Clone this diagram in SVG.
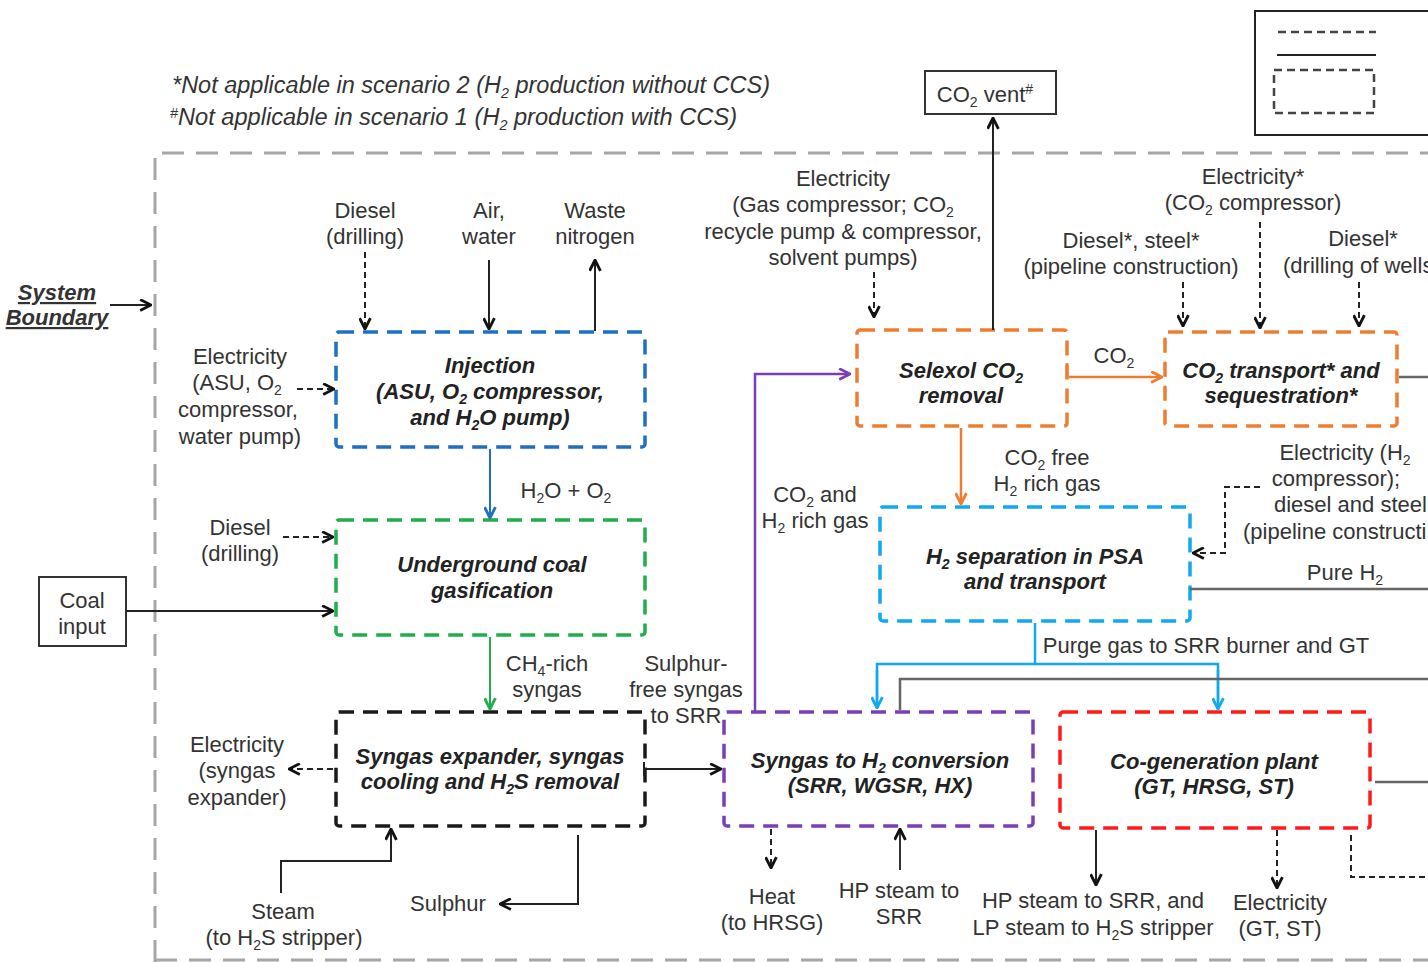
<svg xmlns="http://www.w3.org/2000/svg" width="1428" height="962" viewBox="0 0 1428 962">
<style>
text{font-family:"Liberation Sans",Arial,sans-serif;font-size:22px;fill:#333;text-anchor:middle}
.t{font-weight:bold;font-style:italic;fill:#222;font-size:22px}
.note{font-style:italic;text-anchor:start;font-size:23px}
.box{fill:none;stroke-width:3.5;stroke-dasharray:15,9}
.sol{fill:none;stroke:#222;stroke-width:2}
.dsh{fill:none;stroke:#222;stroke-width:2;stroke-dasharray:6,4}
.gry{fill:none;stroke:#666;stroke-width:2.5}
.s{font-size:14px}
</style>
<defs>
<marker id="ak" viewBox="0 0 12 12" refX="11" refY="6" markerWidth="13" markerHeight="13" markerUnits="userSpaceOnUse" orient="auto"><path d="M1,1 L11,6 L1,11" fill="none" stroke="#111" stroke-width="2.6"/></marker>
<marker id="ab" viewBox="0 0 12 12" refX="11" refY="6" markerWidth="13" markerHeight="13" markerUnits="userSpaceOnUse" orient="auto"><path d="M1,1 L11,6 L1,11" fill="none" stroke="#1f6fc5" stroke-width="2.6"/></marker>
<marker id="ag" viewBox="0 0 12 12" refX="11" refY="6" markerWidth="13" markerHeight="13" markerUnits="userSpaceOnUse" orient="auto"><path d="M1,1 L11,6 L1,11" fill="none" stroke="#21ad4b" stroke-width="2.6"/></marker>
<marker id="ao" viewBox="0 0 12 12" refX="11" refY="6" markerWidth="13" markerHeight="13" markerUnits="userSpaceOnUse" orient="auto"><path d="M1,1 L11,6 L1,11" fill="none" stroke="#ed7d31" stroke-width="2.6"/></marker>
<marker id="ap" viewBox="0 0 12 12" refX="11" refY="6" markerWidth="13" markerHeight="13" markerUnits="userSpaceOnUse" orient="auto"><path d="M1,1 L11,6 L1,11" fill="none" stroke="#7b3fb4" stroke-width="2.6"/></marker>
<marker id="al" viewBox="0 0 12 12" refX="11" refY="6" markerWidth="13" markerHeight="13" markerUnits="userSpaceOnUse" orient="auto"><path d="M1,1 L11,6 L1,11" fill="none" stroke="#12a8ee" stroke-width="2.6"/></marker>
</defs>
<rect width="1428" height="962" fill="#fff"/>

<!-- system boundary -->
<g id="boundary">
<path d="M155,962 L155,153 L1440,153" fill="none" stroke="#a6a6a6" stroke-width="3" stroke-dasharray="22,12"/>
<path d="M155,960 L1440,960" fill="none" stroke="#a6a6a6" stroke-width="3" stroke-dasharray="22,12"/>
<text x="57" y="300" style="font-weight:bold;font-style:italic;text-decoration:underline" font-size="20">System</text>
<text x="57" y="325" style="font-weight:bold;font-style:italic;text-decoration:underline" font-size="20">Boundary</text>
</g>

<!-- legend -->
<g id="legend">
<rect x="1255" y="11" width="200" height="124" fill="none" stroke="#222" stroke-width="2"/>
<line x1="1278" y1="32" x2="1376" y2="32" stroke="#444" stroke-width="2.5" stroke-dasharray="8,5"/>
<line x1="1277" y1="55" x2="1376" y2="55" stroke="#222" stroke-width="2"/>
<rect x="1274" y="70" width="100" height="43" fill="none" stroke="#444" stroke-width="2.5" stroke-dasharray="8,5"/>
</g>

<!-- notes -->
<g id="notes">
<text class="note" x="172" y="93" textLength="598" lengthAdjust="spacingAndGlyphs">*Not applicable in scenario 2 (H<tspan class="s" dy="5">2</tspan><tspan dy="-5"> production without CCS)</tspan></text>
<text class="note" x="170" y="125" textLength="567" lengthAdjust="spacingAndGlyphs"><tspan class="s" dy="-7">#</tspan><tspan dy="7">Not applicable in scenario 1 (H</tspan><tspan class="s" dy="5">2</tspan><tspan dy="-5"> production with CCS)</tspan></text>
</g>

<!-- nodes -->
<g id="co2vent">
<rect x="925" y="71" width="131" height="43" fill="#fff" stroke="#333" stroke-width="2"/>
<text x="985" y="102">CO<tspan class="s" dy="5">2</tspan><tspan dy="-5"> vent</tspan><tspan class="s" dy="-8">#</tspan></text>
</g>

<g id="coal">
<rect x="39" y="577" width="87" height="69" fill="#fff" stroke="#333" stroke-width="2"/>
<text x="82" y="608">Coal</text>
<text x="82" y="634">input</text>
</g>

<g id="injection">
<rect class="box" x="336" y="332" width="309" height="115" rx="3" stroke="#1f6fc5"/>
<text class="t" x="490" y="373">Injection</text>
<text class="t" x="490" y="399">(ASU, O<tspan class="s" dy="5">2</tspan><tspan dy="-5"> compressor,</tspan></text>
<text class="t" x="490" y="425">and H<tspan class="s" dy="5">2</tspan><tspan dy="-5">O pump)</tspan></text>
</g>

<g id="ucg">
<rect class="box" x="336" y="520" width="309" height="115" rx="3" stroke="#21ad4b"/>
<text class="t" x="492" y="572">Underground coal</text>
<text class="t" x="492" y="598">gasification</text>
</g>

<g id="syngasexp">
<rect class="box" x="336" y="712" width="309" height="114" rx="3" stroke="#1a1a1a"/>
<text class="t" x="490" y="764">Syngas expander, syngas</text>
<text class="t" x="490" y="789">cooling and H<tspan class="s" dy="5">2</tspan><tspan dy="-5">S removal</tspan></text>
</g>

<g id="conversion">
<rect class="box" x="724" y="712" width="309" height="114" rx="3" stroke="#7b3fb4"/>
<text class="t" x="880" y="768">Syngas to H<tspan class="s" dy="5">2</tspan><tspan dy="-5"> conversion</tspan></text>
<text class="t" x="880" y="793">(SRR, WGSR, HX)</text>
</g>

<g id="selexol">
<rect class="box" x="857" y="330" width="210" height="96" rx="3" stroke="#ed7d31"/>
<text class="t" x="961" y="378">Selexol CO<tspan class="s" dy="5">2</tspan></text>
<text class="t" x="961" y="403">removal</text>
</g>

<g id="co2transport">
<rect class="box" x="1165" y="332" width="232" height="94" rx="3" stroke="#ed7d31"/>
<text class="t" x="1281" y="378">CO<tspan class="s" dy="5">2</tspan><tspan dy="-5"> transport* and</tspan></text>
<text class="t" x="1281" y="403">sequestration*</text>
</g>

<g id="psa">
<rect class="box" x="880" y="507" width="310" height="114" rx="3" stroke="#12a8ee"/>
<text class="t" x="1035" y="564">H<tspan class="s" dy="5">2</tspan><tspan dy="-5"> separation in PSA</tspan></text>
<text class="t" x="1035" y="589">and transport</text>
</g>

<g id="cogen">
<rect class="box" x="1060" y="712" width="310" height="116" rx="3" stroke="#ff1a1a"/>
<text class="t" x="1214" y="769">Co-generation plant</text>
<text class="t" x="1214" y="794">(GT, HRSG, ST)</text>
</g>

<!-- labels -->
<g id="labels">
<text x="365" y="218">Diesel</text>
<text x="365" y="244">(drilling)</text>
<text x="489" y="218">Air,</text>
<text x="489" y="244">water</text>
<text x="595" y="218">Waste</text>
<text x="595" y="244">nitrogen</text>
<text x="240" y="364">Electricity</text>
<text x="237" y="390">(ASU, O<tspan class="s" dy="5">2</tspan></text>
<text x="238" y="417">compressor,</text>
<text x="240" y="444">water pump)</text>
<text x="566" y="498">H<tspan class="s" dy="5">2</tspan><tspan dy="-5">O + O</tspan><tspan class="s" dy="5">2</tspan></text>
<text x="240" y="535">Diesel</text>
<text x="240" y="561">(drilling)</text>
<text x="547" y="671">CH<tspan class="s" dy="5">4</tspan><tspan dy="-5">-rich</tspan></text>
<text x="547" y="697">syngas</text>
<text x="686" y="671">Sulphur-</text>
<text x="686" y="697">free syngas</text>
<text x="686" y="723">to SRR</text>
<text x="237" y="752">Electricity</text>
<text x="237" y="778">(syngas</text>
<text x="237" y="805">expander)</text>
<text x="283" y="919">Steam</text>
<text x="284" y="945">(to H<tspan class="s" dy="5">2</tspan><tspan dy="-5">S stripper)</tspan></text>
<text x="448" y="911">Sulphur</text>
<text x="772" y="904">Heat</text>
<text x="772" y="930">(to HRSG)</text>
<text x="899" y="898">HP steam to</text>
<text x="899" y="924">SRR</text>
<text x="1093" y="908">HP steam to SRR, and</text>
<text x="1093" y="935">LP steam to H<tspan class="s" dy="5">2</tspan><tspan dy="-5">S stripper</tspan></text>
<text x="1280" y="910">Electricity</text>
<text x="1280" y="936">(GT, ST)</text>
<text x="815" y="502">CO<tspan class="s" dy="5">2</tspan><tspan dy="-5"> and</tspan></text>
<text x="815" y="528">H<tspan class="s" dy="5">2</tspan><tspan dy="-5"> rich gas</tspan></text>
<text x="843" y="186">Electricity</text>
<text x="843" y="212">(Gas compressor; CO<tspan class="s" dy="5">2</tspan></text>
<text x="843" y="239">recycle pump &amp; compressor,</text>
<text x="843" y="265">solvent pumps)</text>
<text x="1114" y="363">CO<tspan class="s" dy="5">2</tspan></text>
<text x="1253" y="184">Electricity*</text>
<text x="1253" y="210">(CO<tspan class="s" dy="5">2</tspan><tspan dy="-5"> compressor)</tspan></text>
<text x="1131" y="248">Diesel*, steel*</text>
<text x="1131" y="274">(pipeline construction)</text>
<text x="1363" y="246">Diesel*</text>
<text x="1283" y="273" style="text-anchor:start">(drilling of wells</text>
<text x="1345" y="460">Electricity (H<tspan class="s" dy="5">2</tspan></text>
<text x="1336" y="486">compressor);</text>
<text x="1274" y="512" style="text-anchor:start">diesel and steel</text>
<text x="1243" y="539" style="text-anchor:start">(pipeline constructi</text>
<text x="1047" y="465">CO<tspan class="s" dy="5">2</tspan><tspan dy="-5"> free</tspan></text>
<text x="1047" y="491">H<tspan class="s" dy="5">2</tspan><tspan dy="-5"> rich gas</tspan></text>
<text x="1345" y="580">Pure H<tspan class="s" dy="5">2</tspan></text>
<text x="1206" y="653">Purge gas to SRR burner and GT</text>
</g>

<!-- connectors -->
<g id="connectors">
<line class="sol" x1="110" y1="305" x2="151" y2="305" marker-end="url(#ak)"/>
<line class="sol" x1="993" y1="330" x2="993" y2="118" marker-end="url(#ak)"/>
<line class="dsh" x1="365" y1="252" x2="365" y2="329" marker-end="url(#ak)"/>
<line class="sol" x1="489" y1="260" x2="489" y2="329" marker-end="url(#ak)"/>
<line class="sol" x1="595" y1="331" x2="595" y2="260" marker-end="url(#ak)"/>
<line class="dsh" x1="297" y1="389" x2="334" y2="389" marker-end="url(#ak)"/>
<line x1="490" y1="449" x2="490" y2="518" fill="none" stroke="#1f6fc5" stroke-width="2" marker-end="url(#ab)"/>
<line class="dsh" x1="283" y1="537" x2="333" y2="537" marker-end="url(#ak)"/>
<line class="sol" x1="126" y1="611" x2="333" y2="611" marker-end="url(#ak)"/>
<line x1="490" y1="637" x2="490" y2="709" fill="none" stroke="#21ad4b" stroke-width="2" marker-end="url(#ag)"/>
<line class="dsh" x1="333" y1="769" x2="289" y2="769" marker-end="url(#ak)"/>
<polyline class="sol" points="281,893 281,861 391,861 391,829" marker-end="url(#ak)"/>
<polyline class="sol" points="578,835 578,904 500,904" marker-end="url(#ak)"/>
<line class="sol" x1="644" y1="769" x2="721" y2="769" marker-end="url(#ak)"/>
<line class="sol" x1="644" y1="762" x2="644" y2="776"/>
<polyline points="755,711 755,374 850,374" fill="none" stroke="#7b3fb4" stroke-width="2.5" marker-end="url(#ap)"/>
<line class="dsh" x1="771" y1="829" x2="771" y2="868" marker-end="url(#ak)"/>
<line x1="900" y1="870" x2="900" y2="829" fill="none" stroke="#333" stroke-width="2" marker-end="url(#ak)"/>
<line class="dsh" x1="874" y1="272" x2="874" y2="317" marker-end="url(#ak)"/>
<line x1="1069" y1="377" x2="1162" y2="377" fill="none" stroke="#ed7d31" stroke-width="2.5" marker-end="url(#ao)"/>
<line x1="1067" y1="363" x2="1067" y2="377" fill="none" stroke="#ed7d31" stroke-width="2.5"/>
<line class="gry" x1="1399" y1="377" x2="1428" y2="377"/>
<line class="dsh" x1="1260" y1="222" x2="1260" y2="328" marker-end="url(#ak)"/>
<line class="dsh" x1="1183" y1="282" x2="1183" y2="326" marker-end="url(#ak)"/>
<line class="dsh" x1="1359" y1="282" x2="1359" y2="326" marker-end="url(#ak)"/>
<line x1="961" y1="428" x2="961" y2="504" fill="none" stroke="#ed7d31" stroke-width="2.5" marker-end="url(#ao)"/>
<polyline class="dsh" points="1260,487 1225,487 1225,553 1193,553" marker-end="url(#ak)"/>
<line class="gry" x1="1190" y1="589" x2="1428" y2="589"/>
<line x1="1035" y1="623" x2="1035" y2="664" fill="none" stroke="#12a8ee" stroke-width="2.5"/>
<polyline points="877,708 877,664 1218,664 1218,709" fill="none" stroke="#12a8ee" stroke-width="2.5"/>
<line x1="877" y1="670" x2="877" y2="708" fill="none" stroke="#12a8ee" stroke-width="2.5" marker-end="url(#al)"/>
<line x1="1218" y1="670" x2="1218" y2="709" fill="none" stroke="#12a8ee" stroke-width="2.5" marker-end="url(#al)"/>
<polyline class="gry" points="900,710 900,679 1428,679"/>
<line class="gry" x1="1375" y1="782" x2="1428" y2="782"/>
<line class="sol" x1="1096" y1="830" x2="1096" y2="885" marker-end="url(#ak)"/>
<line class="dsh" x1="1277" y1="830" x2="1277" y2="888" marker-end="url(#ak)"/>
<polyline class="dsh" points="1351,835 1351,877 1428,877"/>
</g>
</svg>
